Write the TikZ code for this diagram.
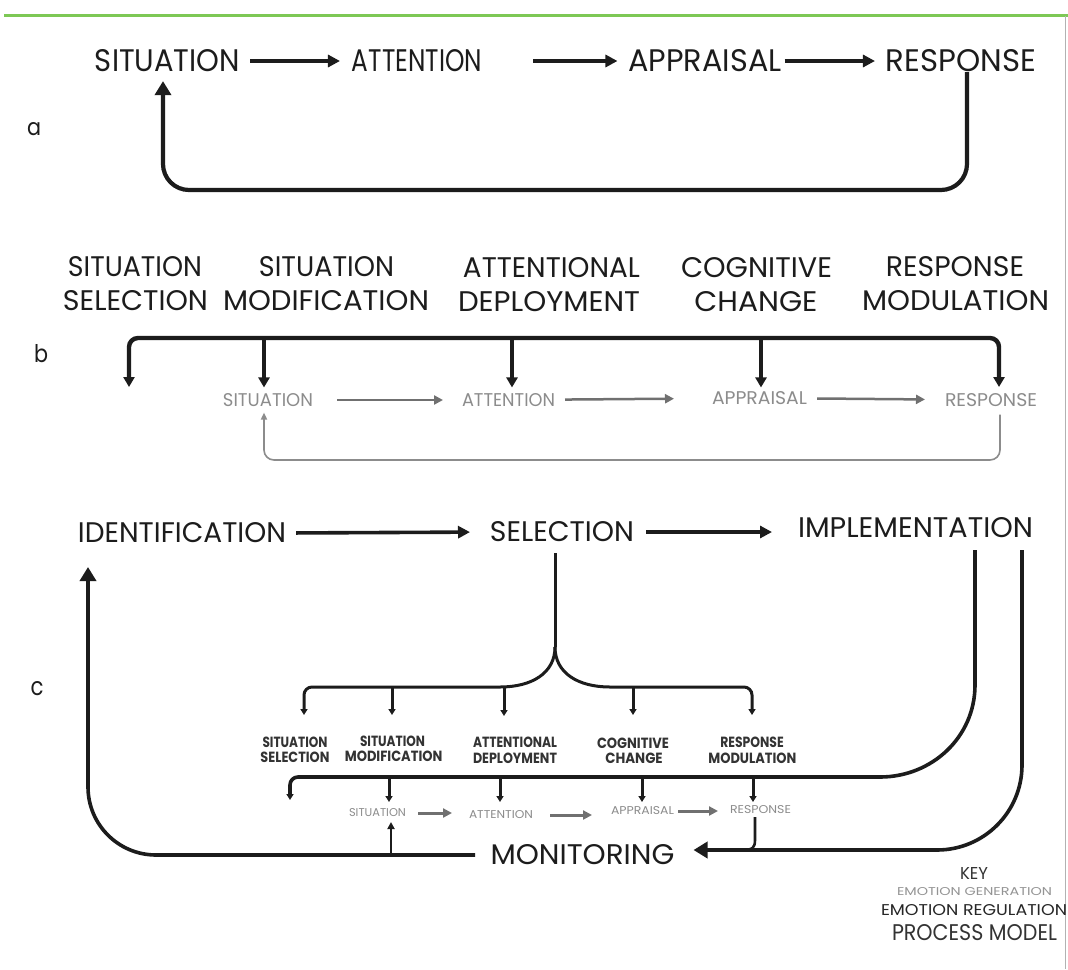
\documentclass[tikz,border=0pt]{standalone}
\usepackage{fontspec}
\setmainfont{Poppins}
\usepackage{graphicx}
\usetikzlibrary{arrows.meta}
\newcommand\tf[3]{\resizebox{#1pt}{#2pt}{#3}}
\definecolor{ink}{HTML}{1C1C1C}
\definecolor{gen}{HTML}{8C8C8C}
\definecolor{genarrow}{HTML}{707070}
\definecolor{keydark}{HTML}{333333}
\definecolor{topgreen}{HTML}{7DC855}
\tikzset{
  bigtri/.tip={Triangle[length=14pt,width=16pt]},
  tri/.tip={Triangle[length=12pt,width=12pt]},
  medtri/.tip={Triangle[length=10pt,width=11pt]},
  smtri/.tip={Triangle[length=6pt,width=7pt]},
  gtri/.tip={Triangle[length=9pt,width=9pt]},
  lbl/.style={text=ink},
  glbl/.style={text=gen},
  arA/.style={draw=ink, line width=3.3pt, -tri},
  loopA/.style={draw=ink, line width=4.2pt, -bigtri},
  brB/.style={draw=ink, line width=4.4pt},
  garr/.style={draw=genarrow, line width=2.5pt, -gtri},
  gloop/.style={draw=gen, line width=1.6pt, -{Triangle[length=7pt,width=6pt]}},
  cl/.style={draw=ink, line width=3.6pt},
  fl/.style={draw=ink, line width=3pt},
}
\begin{document}
\begin{tikzpicture}[x=1pt,y=-1pt, every node/.style={inner sep=0pt, outer sep=0pt}]
\fill[white] (0,0) rectangle (1068,969);
\useasboundingbox (0,0) rectangle (1068,969);
% frame
\draw[topgreen, line width=3pt] (4,15) -- (1068,15);
\draw[black!30, line width=1pt] (1065,16) -- (1065,969);

% ---------------- a
\node[lbl] (la) at (34,129) {\tf{14}{13}{a}};
\node[lbl] (a1) at (167.5,61) {\tf{145}{22}{SITUATION}};
\node[lbl] (a2) at (417,61) {\tf{130}{22}{ATTENTION}};
\node[lbl] (a3) at (705,61) {\tf{153}{22}{APPRAISAL}};
\node[lbl] (a4) at (961,61) {\tf{150}{22}{RESPONSE}};
\draw[arA, shorten <=10pt, shorten >=12pt] (a1) -- (a2);
\draw[arA, shorten <=51pt, shorten >=11pt] (a2) -- (a3);
\draw[arA, shorten <=3pt, shorten >=11pt] (a3) -- (a4);
\draw[loopA, rounded corners=26pt, shorten >=9pt]
  ([xshift=6pt]a4.south) -- ([xshift=6pt]a4.south |- 0,190)
  -- ([xshift=-4.5pt]a1.south |- 0,190) -- ([xshift=-4.5pt]a1.south);

% ---------------- b
\node[lbl] (lb) at (41,354) {\tf{14}{18}{b}};
\node[lbl] (b1a) at (135,267) {\tf{134}{20}{SITUATION}};
\node[lbl] (b1b) at (135.5,301) {\tf{145}{20}{SELECTION}};
\node[lbl] (b2a) at (326.5,267) {\tf{135}{20}{SITUATION}};
\node[lbl] (b2b) at (326,301) {\tf{206}{20}{MODIFICATION}};
\node[lbl] (b3a) at (551.5,268) {\tf{177}{20}{ATTENTIONAL}};
\node[lbl] (b3b) at (549,302) {\tf{182}{20}{DEPLOYMENT}};
\node[lbl] (b4a) at (756.5,268) {\tf{151}{20}{COGNITIVE}};
\node[lbl] (b4b) at (756,302) {\tf{123}{20}{CHANGE}};
\node[lbl] (b5a) at (955,267) {\tf{138}{20}{RESPONSE}};
\node[lbl] (b5b) at (955.5,301) {\tf{187}{20}{MODULATION}};

\node[glbl] (g1) at (268,400) {\tf{90}{13}{SITUATION}};
\node[glbl] (g2) at (508.5,400) {\tf{93}{13}{ATTENTION}};
\node[glbl] (g3) at (759.5,398) {\tf{95}{13}{APPRAISAL}};
\node[glbl] (g4) at (991,400) {\tf{92}{13}{RESPONSE}};
\draw[garr, shorten <=24pt, shorten >=19pt] (g1) -- (g2);
\draw[garr, shorten <=10pt, shorten >=38pt] (g2) -- (g3);
\draw[garr, shorten <=10pt, shorten >=20pt] (g3) -- (g4);
\draw[gloop, rounded corners=10pt, shorten <=8pt, shorten >=6pt]
  ([xshift=9pt]g4.south) -- ([xshift=9pt]g4.south |- 0,460)
  -- ([xshift=-4pt]g1.south |- 0,460) -- ([xshift=-4pt]g1.south);

\coordinate (bbar) at (0,338);
\coordinate (bsel) at (129,387);
\coordinate (bresp) at (999,387);
\draw[brB, medtri-medtri, rounded corners=9pt] (bsel) -- (bsel |- bbar) -- (bresp |- bbar) -- (bresp);
\draw[brB, -medtri] ([xshift=-4pt]g1.north |- bbar) -- ([xshift=-4pt,yshift=6pt]g1.north);
\draw[brB, -medtri] ([xshift=3.5pt]g2.north |- bbar) -- ([xshift=3.5pt,yshift=6pt]g2.north);
\draw[brB, -medtri] ([xshift=1.5pt]g3.north |- bbar) -- ([xshift=1.5pt,yshift=4pt]g3.north);

% ---------------- c
\node[lbl] (lc) at (37,689) {\tf{13}{14}{c}};
\node[lbl] (c1) at (182,533) {\tf{208}{20}{IDENTIFICATION}};
\node[lbl] (c2) at (562,532) {\tf{144}{20}{SELECTION}};
\node[lbl] (c3) at (915.5,528) {\tf{235}{20}{IMPLEMENTATION}};
\draw[cl, -tri, shorten <=10pt, shorten >=20pt] (c1.east) -- (c2.west);
\draw[cl, -tri, shorten <=12pt, shorten >=26pt] (c2.east) -- (c2.east -| c3.west);

% fork from selection
\coordinate (fork) at (555,647);
\coordinate (s1tip) at (304,715);
\coordinate (s5tip) at (752,715);
\draw[fl] ([xshift=-7pt,yshift=-11pt]c2.south) -- (fork);
\draw[fl, -smtri] (fork) .. controls (555,673) and (532,687) .. (500,687)
  [rounded corners=8pt] -- (s1tip |- 0,687) -- (s1tip);
\draw[fl, -smtri] (fork) .. controls (555,673) and (578,687) .. (610,687)
  [rounded corners=8pt] -- (s5tip |- 0,687) -- (s5tip);
\draw[fl, -smtri] (392,687) -- (392,715);
\draw[fl, -smtri] (504,687) -- (504,716);
\draw[fl, -smtri] (633,687) -- (633,715);

\node[text=keydark] (s1a) at (295,742) {\tf{65}{10.5}{\bfseries SITUATION}};
\node[text=keydark] (s1b) at (295,757) {\tf{69}{10.5}{\bfseries SELECTION}};
\node[text=keydark] (s2a) at (392.5,741) {\tf{65}{10.5}{\bfseries SITUATION}};
\node[text=keydark] (s2b) at (393.6,756) {\tf{97.6}{10.5}{\bfseries MODIFICATION}};
\node[text=keydark] (s3a) at (515,742) {\tf{84}{10.5}{\bfseries ATTENTIONAL}};
\node[text=keydark] (s3b) at (515,758) {\tf{84}{10.5}{\bfseries DEPLOYMENT}};
\node[text=keydark] (s4a) at (633,743) {\tf{72}{10.5}{\bfseries COGNITIVE}};
\node[text=keydark] (s4b) at (634,758) {\tf{57.4}{10.5}{\bfseries CHANGE}};
\node[text=keydark] (s5a) at (752,742) {\tf{63.5}{10.5}{\bfseries RESPONSE}};
\node[text=keydark] (s5b) at (752.4,758) {\tf{88}{10.5}{\bfseries MODULATION}};

% generation row c
\node[glbl] (gc1) at (377.5,813) {\tf{57}{8}{SITUATION}};
\node[glbl] (gc2) at (501,815) {\tf{64}{8}{ATTENTION}};
\node[glbl] (gc3) at (642.5,811) {\tf{63}{8}{APPRAISAL}};
\node[glbl] (gc4) at (760.5,810) {\tf{61}{8}{RESPONSE}};
\draw[garr, line width=3pt, shorten <=12pt, shorten >=17pt] (gc1.east) -- (gc1.east -| gc2.west);
\draw[garr, line width=3pt, shorten <=17pt, shorten >=19pt] (gc2.east) -- (gc2.east -| gc3.west);
\draw[garr, line width=3pt, shorten <=4pt, shorten >=12pt] (gc3.east) -- (gc3.east -| gc4.west);

% implementation inner line -> second bracket
\coordinate (ctip) at (290,800);
\draw[cl, -smtri, shorten <=12pt] ([xshift=59.5pt]c3.south) -- (975,685)
  .. controls (975,737) and (932,777) .. (880,777)
  [rounded corners=8pt] -- (ctip |- 0,777) -- (ctip);
\draw[fl, -smtri] (389,777) -- (389,802);
\draw[fl, -smtri] (500,777) -- (500,802);
\draw[fl, -smtri] (642,777) -- (642,802);
\draw[fl, -smtri] (753,777) -- (753,802);

% monitoring
\node[lbl] (m) at (582.5,855) {\tf{184}{20}{MONITORING}};
\draw[cl, -bigtri, shorten <=12pt, shorten >=19pt] ([xshift=106.5pt]c3.south) -- (1022,765)
  .. controls (1022,812) and (984,850) .. (937,850) -- ([yshift=5pt]m.east);
\draw[draw=ink, line width=2.6pt] ([xshift=-5.5pt,yshift=-3pt]gc4.south) -- (755,840)
  .. controls (755,848) and (752,850) .. (744,850);
\coordinate (idtip) at (88,567);
\draw[cl, -bigtri, rounded corners=68pt] ([xshift=-15.5pt]m.west) -- (idtip |- m.west) -- (idtip);
\draw[draw=ink, line width=2.4pt, -{Triangle[length=7pt,width=7pt]}] (391,855) -- (391,822);

% key
\node[text=keydark] (k1) at (974,873) {\tf{28}{12}{KEY}};
\node[text=black!42] (k2) at (974.5,892) {\tf{155}{8}{EMOTION GENERATION}};
\node[text=black!85] (k3) at (974,910) {\tf{186}{11}{EMOTION REGULATION}};
\node[text=keydark] (k4) at (974.5,933) {\tf{165}{16}{PROCESS MODEL}};
\end{tikzpicture}
\end{document}
